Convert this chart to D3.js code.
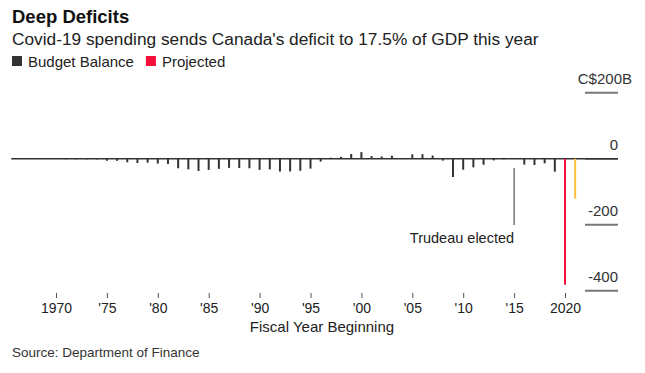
<!DOCTYPE html>
<html>
<head>
<meta charset="utf-8">
<script src="https://cdn.jsdelivr.net/npm/d3@7"></script>
<style>
  body { margin: 0; background: #fff; }
  svg { font-family: "Liberation Sans", Arial, sans-serif; }
</style>
</head>
<body>
<svg width="645" height="373"></svg>
<script>
// fiscal years and budget balance, C$ billions
var years = [1966, 1967, 1968, 1969, 1970, 1971, 1972, 1973, 1974, 1975,
             1976, 1977, 1978, 1979, 1980, 1981, 1982, 1983, 1984, 1985,
             1986, 1987, 1988, 1989, 1990, 1991, 1992, 1993, 1994, 1995,
             1996, 1997, 1998, 1999, 2000, 2001, 2002, 2003, 2004, 2005,
             2006, 2007, 2008, 2009, 2010, 2011, 2012, 2013, 2014, 2015,
             2016, 2017, 2018, 2019];
var balance = [-0.4, -0.8, -0.6, -0.3, -1.0, -1.8, -1.9, -2.2, -2.2, -6.2,
               -6.3, -10.9, -13.0, -12.0, -14.6, -15.7, -29.0, -32.4, -37.2, -33.9,
               -30.7, -27.8, -28.2, -29.0, -33.9, -32.3, -39.0, -38.5, -36.6, -30.0,
               -8.7, 2.9, 5.8, 14.3, 19.9, 8.0, 6.6, 9.1, 1.5, 13.2,
               13.8, 9.6, -5.8, -55.6, -33.4, -26.3, -18.4, -5.2, -1.9, -1.0,
               -17.8, -19.0, -14.0, -39.4];
var projYears = [2020];
var projected = [-381.6];
var nextYears = [2021];
var nextProjected = [-121.2];

var xTicks = [1970, 1975, 1980, 1985, 1990, 1995, 2000, 2005, 2010, 2015, 2020];
var yTicks = [200, 0, -200, -400];

var svg = d3.select("svg");

var x = d3.scaleLinear().domain([1970, 2020]).range([56, 565]);
var y = d3.scaleLinear().domain([-400, 200]).range([290.7, 92.7]);

// title block
svg.append("text").attr("x", 12).attr("y", 23)
    .attr("font-size", 18.5).attr("font-weight", "bold").attr("fill", "#111")
    .text("Deep Deficits");
svg.append("text").attr("x", 12).attr("y", 45)
    .attr("font-size", 17.3).attr("fill", "#222")
    .text("Covid-19 spending sends Canada's deficit to 17.5% of GDP this year");

// legend
var legend = [{label: "Budget Balance", color: "#333"}, {label: "Projected", color: "#f5103c"}];
var lx = 12;
legend.forEach(function (d) {
    svg.append("rect").attr("x", lx).attr("y", 56).attr("width", 10).attr("height", 10).attr("fill", d.color);
    var t = svg.append("text").attr("x", lx + 16).attr("y", 67)
        .attr("font-size", 15).attr("fill", "#222").text(d.label);
    lx += 16 + t.node().getComputedTextLength() + 12;
});

// y axis on the right: short lines with labels above
var yAxis = svg.append("g");
yTicks.forEach(function (v) {
    yAxis.append("line")
        .attr("x1", 585).attr("x2", 618)
        .attr("y1", y(v)).attr("y2", y(v))
        .attr("stroke", v == 0 ? "#333" : "#777").attr("stroke-width", v == 0 ? 1.5 : 2);
    yAxis.append("text").attr("x", v == 200 ? 632 : 618).attr("y", y(v) - 9)
        .attr("text-anchor", "end").attr("font-size", 15).attr("fill", "#333")
        .text(v == 200 ? "C$200B" : v);
});

// zero line
svg.append("line")
    .attr("x1", x(1965.6)).attr("x2", 618)
    .attr("y1", y(0)).attr("y2", y(0))
    .attr("stroke", "#333").attr("stroke-width", 1.5);

// bars
function bars(yrs, vals, color) {
    svg.append("g").selectAll("rect")
        .data(vals)
        .enter().append("rect")
        .attr("x", function (d, i) { return x(yrs[i]) - 1; })
        .attr("y", function (d) { return y(Math.max(0, d)); })
        .attr("width", 2)
        .attr("height", function (d) { return Math.abs(y(d) - y(0)); })
        .attr("fill", color);
}
bars(years, balance, "#333");
bars(projYears, projected, "#f5103c");
bars(nextYears, nextProjected, "#fcc23c");

// annotation
svg.append("line")
    .attr("x1", x(2015)).attr("x2", x(2015))
    .attr("y1", 168).attr("y2", 225)
    .attr("stroke", "#333").attr("stroke-width", 1);
svg.append("text").attr("x", x(2015)).attr("y", 243)
    .attr("text-anchor", "end").attr("font-size", 14.5).attr("fill", "#222")
    .text("Trudeau elected");

// x axis
var xAxis = svg.append("g").attr("transform", "translate(0,293)")
    .call(d3.axisBottom(x).tickValues(xTicks).tickSize(5).tickPadding(5)
        .tickFormat(function (d) {
            return (d == 1970 || d == 2020) ? d : "'" + String(d).slice(2);
        }));
xAxis.select(".domain").remove();
xAxis.selectAll("line").attr("stroke", "#555");
xAxis.selectAll("text").attr("font-size", 14).attr("fill", "#222")
    .attr("font-family", "Liberation Sans, Arial, sans-serif");

svg.append("text").attr("x", 322).attr("y", 332)
    .attr("text-anchor", "middle").attr("font-size", 15).attr("fill", "#222")
    .text("Fiscal Year Beginning");

svg.append("text").attr("x", 12).attr("y", 357)
    .attr("font-size", 13.5).attr("fill", "#333")
    .text("Source: Department of Finance");
</script>
</body>
</html>
